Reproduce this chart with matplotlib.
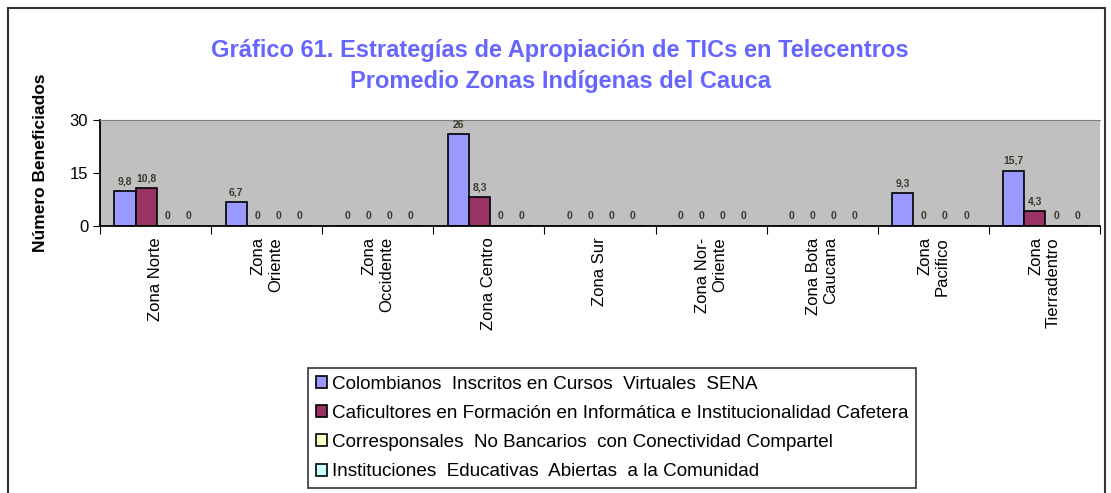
import numpy as np
import matplotlib.pyplot as plt
from matplotlib.patches import Rectangle

plt.rcParams['font.family'] = ['Liberation Sans', 'DejaVu Sans']

zonas = ["Zona Norte", "Zona\nOriente", "Zona\nOccidente", "Zona Centro", "Zona Sur",
         "Zona Nor-\nOriente", "Zona Bota\nCaucana", "Zona\nPacifico", "Zona\nTierradentro"]
sena = [9.8, 6.7, 0, 26, 0, 0, 0, 9.3, 15.7]
caficultores = [10.8, 0, 0, 8.3, 0, 0, 0, 0, 4.3]
corresponsales = [0, 0, 0, 0, 0, 0, 0, 0, 0]
instituciones = [0, 0, 0, 0, 0, 0, 0, 0, 0]
series = [
    ("Colombianos  Inscritos en Cursos  Virtuales  SENA", sena, "#9999FF"),
    ("Caficultores en Formación en Informática e Institucionalidad Cafetera", caficultores, "#993366"),
    ("Corresponsales  No Bancarios  con Conectividad Compartel", corresponsales, "#FFFFCC"),
    ("Instituciones  Educativas  Abiertas  a la Comunidad", instituciones, "#CCFFFF"),
]

fig = plt.figure(figsize=(11.11, 4.93), dpi=100)
# outer chart frame
fig.patches.append(Rectangle((8 / 1111, -0.1), 1097 / 1111, 1 - 8 / 493 + 0.1,
                             transform=fig.transFigure, fill=False, edgecolor="#333333", lw=1.5))

ax = fig.add_axes([100 / 1111, 1 - 226 / 493, 1000 / 1111, 106 / 493])
ax.set_facecolor("#C0C0C0")

x = np.arange(len(zonas))
w = 0.19
for i, (name, vals, col) in enumerate(series):
    pos = x - 1.45 * w + i * w
    ax.bar(pos, vals, w, color=col, edgecolor="black", lw=1.2, label=name)
    for p, v in zip(pos, vals):
        txt = ("%g" % v).replace(".", ",")
        ax.text(p, v + 1.3, txt, ha="center", va="bottom", fontsize=7.5,
                fontweight="bold", color="#3a3a2a")

ax.set_xlim(-0.5, len(zonas) - 0.5)
ax.set_ylim(0, 30)
ax.set_yticks([0, 15, 30])
ax.tick_params(axis="y", labelsize=12, length=5, direction="out")
ax.set_xticks(np.arange(len(zonas) + 1) - 0.5, minor=False)
ax.set_xticklabels([])
ax.tick_params(axis="x", length=6, direction="out")
for xi, lab in zip(x, zonas):
    ax.text(xi, -3.2, lab, rotation=90, ha="center", va="top", ma="right",
            fontsize=12, transform=ax.transData)

ax.spines["right"].set_visible(False)
ax.spines["top"].set_color("#808080")
ax.spines["left"].set_linewidth(1.3)
ax.spines["bottom"].set_linewidth(1.3)

ax.set_ylabel("Número Beneficiados", fontsize=12.5, fontweight="bold", va="center")
ax.yaxis.set_label_coords(-0.059, 0.6)

fig.text(560 / 1111, 1 - 51 / 493, "Gráfico 61. Estrategías de Apropiación de TICs en Telecentros",
         ha="center", va="center", fontsize=17, fontweight="bold", color="#6666FF")
fig.text(560 / 1111, 1 - 81 / 493, "Promedio Zonas Indígenas del Cauca",
         ha="center", va="center", fontsize=17, fontweight="bold", color="#6666FF")

leg = fig.legend(loc="upper left", bbox_to_anchor=(308 / 1111, 1 - 368 / 493),
                 fontsize=13.6, frameon=True, fancybox=False, edgecolor="black",
                 handlelength=0.6, handleheight=0.6, handletextpad=0.25,
                 labelspacing=0.65, borderpad=0.4, borderaxespad=0)
leg.get_frame().set_linewidth(1.2)

fig.savefig("out.png", dpi=100)
